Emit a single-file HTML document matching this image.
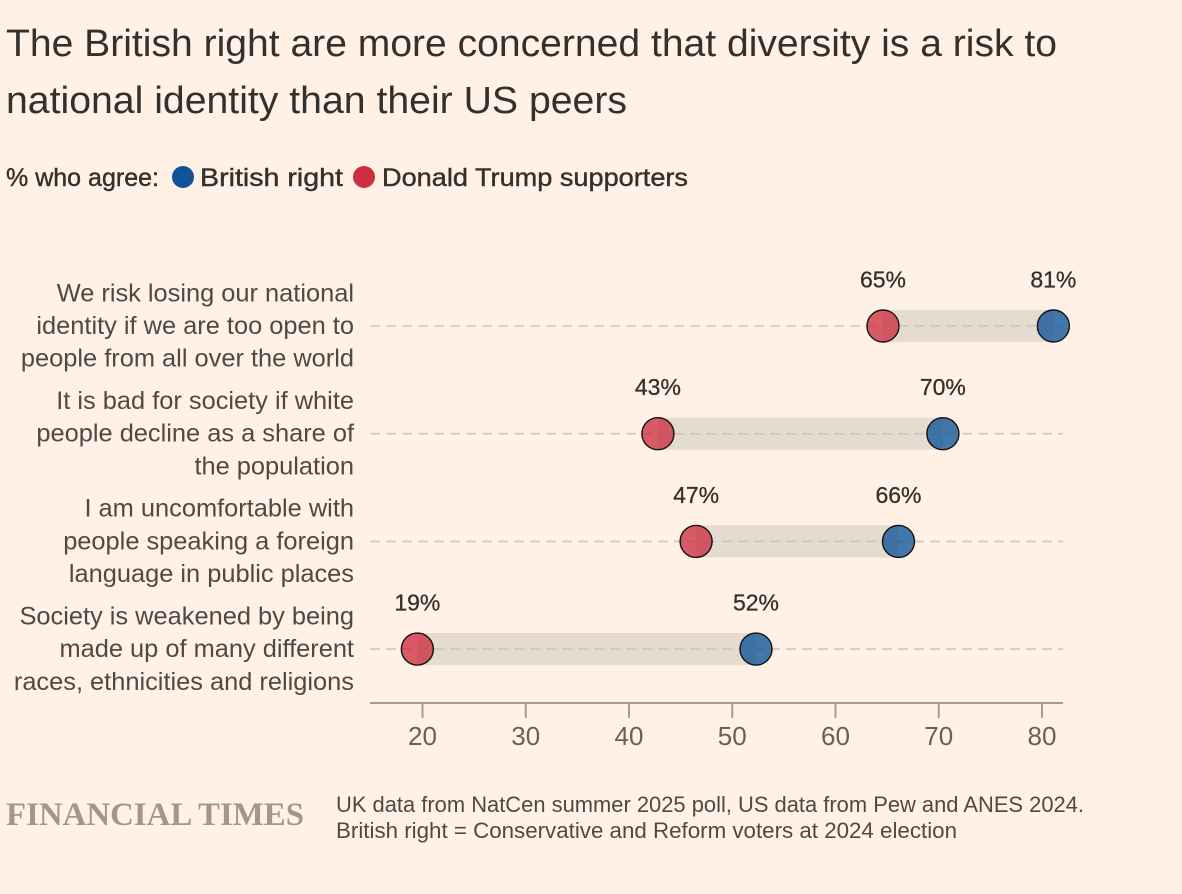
<!DOCTYPE html>
<html lang="en">
<head>
<meta charset="utf-8">
<title>British right vs Trump supporters</title>
<style>
html,body{margin:0;padding:0;background:#fff1e5;}
body{width:1182px;height:894px;overflow:hidden;}
svg{display:block;font-family:"Liberation Sans",sans-serif;}
</style>
</head>
<body>
<svg id="chart" width="1182" height="894" viewBox="0 0 1182 894" xmlns="http://www.w3.org/2000/svg">
  <rect width="1182" height="894" fill="#fff1e5"/>
  <text x="6" y="56" font-size="38" fill="#33302e" textLength="1051" lengthAdjust="spacingAndGlyphs">The British right are more concerned that diversity is a risk to</text>
  <text x="6" y="113" font-size="38" fill="#33302e" textLength="621" lengthAdjust="spacingAndGlyphs">national identity than their US peers</text>
  <text x="6" y="186" font-size="25" fill="#33302e" stroke="#33302e" stroke-width="0.4" textLength="153" lengthAdjust="spacingAndGlyphs">% who agree:</text>
  <circle cx="183" cy="177" r="11" fill="#0f5499"/>
  <text x="200" y="186" font-size="25" fill="#33302e" stroke="#33302e" stroke-width="0.4" textLength="143" lengthAdjust="spacingAndGlyphs">British right</text>
  <circle cx="364" cy="177" r="11" fill="#cc2f41"/>
  <text x="382" y="186" font-size="25" fill="#33302e" stroke="#33302e" stroke-width="0.4" textLength="306" lengthAdjust="spacingAndGlyphs">Donald Trump supporters</text>
  <g id="plot"></g>
  <text x="6" y="825" font-family="'Liberation Serif',serif" font-size="33" font-weight="700" fill="#a3978d" textLength="298" lengthAdjust="spacingAndGlyphs">FINANCIAL TIMES</text>
  <text x="336" y="812" font-size="22" fill="#4f4945" textLength="748" lengthAdjust="spacingAndGlyphs">UK data from NatCen summer 2025 poll, US data from Pew and ANES 2024.</text>
  <text x="336" y="838" font-size="22" fill="#4f4945" textLength="621" lengthAdjust="spacingAndGlyphs">British right = Conservative and Reform voters at 2024 election</text>
</svg>
<script>
const categories = [
  ["We risk losing our national", "identity if we are too open to", "people from all over the world"],
  ["It is bad for society if white", "people decline as a share of", "the population"],
  ["I am uncomfortable with", "people speaking a foreign", "language in public places"],
  ["Society is weakened by being", "made up of many different", "races, ethnicities and religions"]
];
const britishRight = [81.1, 70.4, 66.1, 52.3];
const trumpSupporters = [64.6, 42.8, 46.5, 19.5];
const britishRightLabels = ["81%", "70%", "66%", "52%"];
const trumpLabels = ["65%", "43%", "47%", "19%"];
const xTicks = [20, 30, 40, 50, 60, 70, 80];

const SVG_NS = "http://www.w3.org/2000/svg";
const plot = document.getElementById("plot");
const xScale = v => 422.5 + (v - 20) * (1042 - 422.5) / 60;
const yScale = i => 326 + i * 107.7;
const AXIS_Y = 703;

function make(tag, attrs, parent, text) {
  const el = document.createElementNS(SVG_NS, tag);
  for (const k in attrs) el.setAttribute(k, attrs[k]);
  if (text !== undefined) el.textContent = text;
  parent.appendChild(el);
  return el;
}

categories.forEach((lines, i) => {
  const y = yScale(i);
  const row = make("g", {}, plot);
  
  

  lines.forEach((line, j) => {
    const t = make("text", {x: 354, y: y + (j - 1) * 32.7 + 8, "text-anchor": "end", "font-size": 25.4, fill: "#4f4945"}, row, line);
    
    
  });

  const a = xScale(trumpSupporters[i]);
  const b = xScale(britishRight[i]);

  const band = make("rect", {x: Math.min(a, b), y: y - 16, width: Math.abs(b - a), height: 32, fill: "#e4dbd1"}, row);
  
  

  const grid = make("line", {x1: 370, x2: 1063, y1: y, y2: y, stroke: "#cec6b9", "stroke-width": 1.6, "stroke-dasharray": "10 6"}, row);
  
  

  const dotA = make("circle", {cx: a, cy: y, r: 16, fill: "#cc2f41", "fill-opacity": 0.78, stroke: "#14110f", "stroke-width": 1.4}, row);
  
  

  const dotB = make("circle", {cx: b, cy: y, r: 16, fill: "#0f5499", "fill-opacity": 0.78, stroke: "#14110f", "stroke-width": 1.4}, row);
  
  

  const labelA = make("text", {x: a, y: y - 38.5, "text-anchor": "middle", "font-size": 23, fill: "#33302e", stroke: "#33302e", "stroke-width": 0.3}, row, trumpLabels[i]);
  
  

  const labelB = make("text", {x: b, y: y - 38.5, "text-anchor": "middle", "font-size": 23, fill: "#33302e", stroke: "#33302e", "stroke-width": 0.3}, row, britishRightLabels[i]);
  
  
});

const axis = make("g", {}, plot);



const axisLine = make("line", {x1: 370, x2: 1063, y1: AXIS_Y, y2: AXIS_Y, stroke: "#a89c91", "stroke-width": 2}, axis);



xTicks.forEach(v => {
  const x = xScale(v);
  const tick = make("line", {x1: x, x2: x, y1: AXIS_Y, y2: AXIS_Y + 15, stroke: "#a89c91", "stroke-width": 2}, axis);
  
  
  const label = make("text", {x: x, y: 745, "text-anchor": "middle", "font-size": 26, fill: "#66605c"}, axis, String(v));
  
  
});
</script>
</body>
</html>
